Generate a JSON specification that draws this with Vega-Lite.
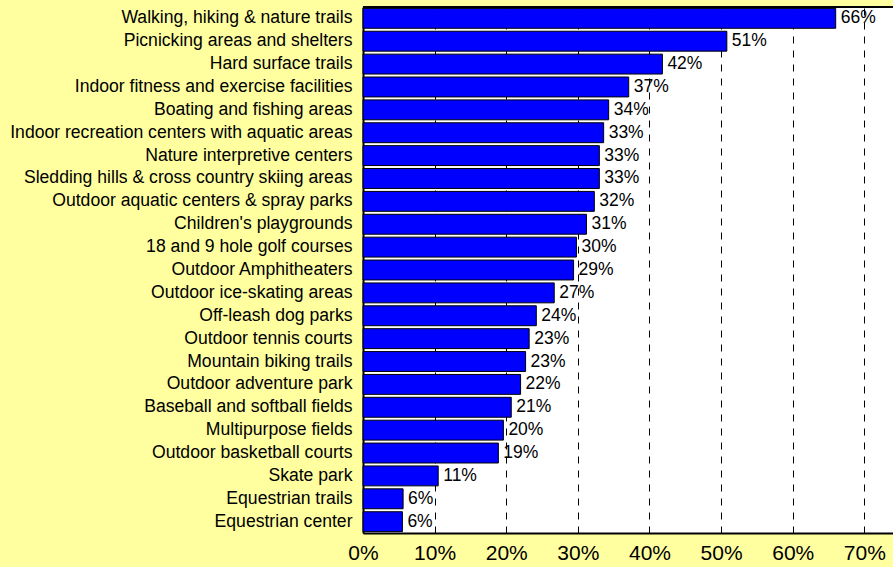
{
  "$schema": "https://vega.github.io/schema/vega-lite/v6.json",
  "width": 530,
  "height": 526,
  "autosize": {"type": "none"},
  "padding": {"left": 363, "top": 7, "right": 0, "bottom": 34},
  "background": "#FFFFA0",
  "config": {
    "view": {"fill": "white", "stroke": null},
    "font": "Liberation Sans"
  },
  "data": {
    "values": [
      {"facility": "Walking, hiking & nature trails", "value": 0.660, "label": "66%"},
      {"facility": "Picnicking areas and shelters", "value": 0.508, "label": "51%"},
      {"facility": "Hard surface trails", "value": 0.418, "label": "42%"},
      {"facility": "Indoor fitness and exercise facilities", "value": 0.371, "label": "37%"},
      {"facility": "Boating and fishing areas", "value": 0.343, "label": "34%"},
      {"facility": "Indoor recreation centers with aquatic areas", "value": 0.336, "label": "33%"},
      {"facility": "Nature interpretive centers", "value": 0.330, "label": "33%"},
      {"facility": "Sledding hills & cross country skiing areas", "value": 0.330, "label": "33%"},
      {"facility": "Outdoor aquatic centers & spray parks", "value": 0.323, "label": "32%"},
      {"facility": "Children's playgrounds", "value": 0.312, "label": "31%"},
      {"facility": "18 and 9 hole golf courses", "value": 0.298, "label": "30%"},
      {"facility": "Outdoor Amphitheaters", "value": 0.294, "label": "29%"},
      {"facility": "Outdoor ice-skating areas", "value": 0.267, "label": "27%"},
      {"facility": "Off-leash dog parks", "value": 0.242, "label": "24%"},
      {"facility": "Outdoor tennis courts", "value": 0.232, "label": "23%"},
      {"facility": "Mountain biking trails", "value": 0.227, "label": "23%"},
      {"facility": "Outdoor adventure park", "value": 0.220, "label": "22%"},
      {"facility": "Baseball and softball fields", "value": 0.207, "label": "21%"},
      {"facility": "Multipurpose fields", "value": 0.196, "label": "20%"},
      {"facility": "Outdoor basketball courts", "value": 0.189, "label": "19%"},
      {"facility": "Skate park", "value": 0.105, "label": "11%"},
      {"facility": "Equestrian trails", "value": 0.056, "label": "6%"},
      {"facility": "Equestrian center", "value": 0.055, "label": "6%"}
    ]
  },
  "encoding": {
    "y": {
      "field": "facility",
      "type": "nominal",
      "sort": null,
      "scale": {"paddingInner": 0.13, "paddingOuter": 0.06},
      "axis": {
        "title": null,
        "ticks": false,
        "domainColor": "black",
        "domainWidth": 2,
        "labelFontSize": 17.6,
        "labelColor": "black",
        "labelPadding": 11,
        "labelLimit": 400
      }
    },
    "x": {
      "field": "value",
      "type": "quantitative",
      "scale": {"domain": [0, 0.74], "nice": false},
      "axis": {
        "title": null,
        "format": ".0%",
        "values": [0, 0.1, 0.2, 0.3, 0.4, 0.5, 0.6, 0.7],
        "ticks": false,
        "labelFlush": false,
        "domainColor": "black",
        "domainWidth": 2,
        "labelFontSize": 21,
        "labelColor": "black",
        "labelPadding": 9,
        "grid": true,
        "gridColor": "black",
        "gridDash": [7, 7],
        "gridWidth": 1
      }
    }
  },
  "layer": [
    {
      "mark": {"type": "bar", "color": "#0000FF", "stroke": "black", "strokeWidth": 1}
    },
    {
      "mark": {"type": "text", "align": "left", "dx": 5, "fontSize": 17.5, "color": "black"},
      "encoding": {"text": {"field": "label"}}
    },
    {
      "mark": {"type": "rule", "color": "black", "strokeWidth": 2},
      "encoding": {"y": {"value": 0}, "x": {"value": 0}, "x2": {"value": 530}}
    }
  ]
}
